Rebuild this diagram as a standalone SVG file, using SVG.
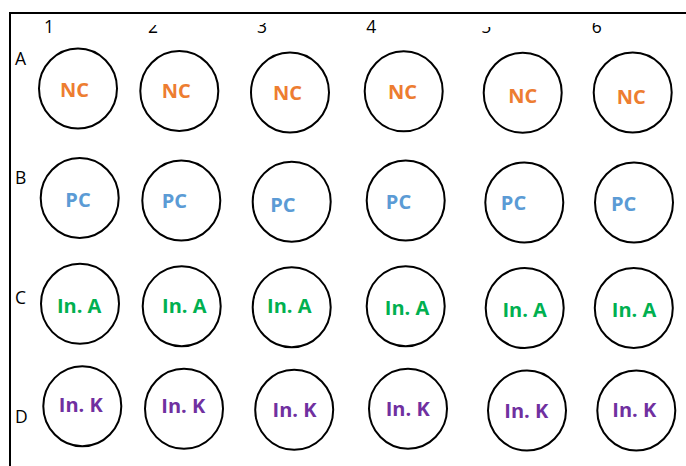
<svg xmlns="http://www.w3.org/2000/svg" width="686" height="466" viewBox="0 0 686 466">
<style>
  .well { fill: #ffffff; stroke: #000000; stroke-width: 2; }
  .lbl { font-family: "Open Sans", "Liberation Sans", sans-serif; font-size: 17.5px; fill: #000000; }
  .col { text-anchor: middle; }
  .t { font-family: "Open Sans", "Liberation Sans", sans-serif; font-size: 20px; font-weight: bold; text-anchor: middle; }
  .nc { fill: #ED7D31; }
  .pc { fill: #5B9BD5; }
  .ia { fill: #00B050; }
  .ik { fill: #7030A0; }
</style>
<defs>
  <clipPath id="clip2"><rect x="140" y="25" width="30" height="15"/></clipPath>
  <clipPath id="clip3"><rect x="250" y="23" width="30" height="15"/></clipPath>
  <clipPath id="clip5"><rect x="475" y="27" width="30" height="15"/></clipPath>
  <clipPath id="clip6"><rect x="585" y="23" width="30" height="15"/></clipPath>
</defs>
<rect width="686" height="466" fill="#ffffff"/>
<g id="frame">
  <path d="M 10 466 V 13 H 686" fill="none" stroke="#000000" stroke-width="2"/>
</g>
<g id="column-labels">
  <text class="lbl col" x="49" y="33.3">1</text>
  <text class="lbl col" x="153" y="33.3" clip-path="url(#clip2)">2</text>
  <text class="lbl col" x="262" y="33.3" clip-path="url(#clip3)">3</text>
  <text class="lbl col" x="371.3" y="33.3">4</text>
  <text class="lbl col" x="486.2" y="33.3" clip-path="url(#clip5)">5</text>
  <text class="lbl col" x="596.7" y="33.3" clip-path="url(#clip6)">6</text>
</g>
<g id="row-labels">
  <text class="lbl" x="15" y="65">A</text>
  <text class="lbl" x="15" y="184.3">B</text>
  <text class="lbl" x="15" y="304">C</text>
  <text class="lbl" x="15" y="423.3">D</text>
</g>
<g id="A1"><ellipse class="well" cx="78" cy="88.5" rx="39" ry="40"/><text class="t nc" x="74.5" y="97.3">NC</text></g>
<g id="A2"><ellipse class="well" cx="179.3" cy="91" rx="39" ry="40"/><text class="t nc" x="176.3" y="98.3">NC</text></g>
<g id="A3"><ellipse class="well" cx="290" cy="92.5" rx="39" ry="40"/><text class="t nc" x="287.5" y="100">NC</text></g>
<g id="A4"><ellipse class="well" cx="403.7" cy="91.3" rx="39" ry="40"/><text class="t nc" x="402.5" y="99.3">NC</text></g>
<g id="A5"><ellipse class="well" cx="522.7" cy="92.8" rx="39" ry="40"/><text class="t nc" x="522.7" y="102.7">NC</text></g>
<g id="A6"><ellipse class="well" cx="632.7" cy="92.5" rx="39" ry="40"/><text class="t nc" x="631.3" y="104">NC</text></g>
<g id="B1"><ellipse class="well" cx="79.7" cy="198" rx="39" ry="40"/><text class="t pc" x="78" y="206.7">PC</text></g>
<g id="B2"><ellipse class="well" cx="181.3" cy="200.5" rx="39" ry="40"/><text class="t pc" x="174.3" y="208.3">PC</text></g>
<g id="B3"><ellipse class="well" cx="291.7" cy="201.7" rx="39" ry="40"/><text class="t pc" x="282.8" y="211.7">PC</text></g>
<g id="B4"><ellipse class="well" cx="405.7" cy="200.5" rx="39" ry="40"/><text class="t pc" x="398.5" y="209">PC</text></g>
<g id="B5"><ellipse class="well" cx="524.3" cy="202.5" rx="39" ry="40"/><text class="t pc" x="513.5" y="210">PC</text></g>
<g id="B6"><ellipse class="well" cx="634" cy="202.5" rx="39" ry="40"/><text class="t pc" x="623.7" y="210.7">PC</text></g>
<g id="C1"><ellipse class="well" cx="80" cy="303.8" rx="39" ry="40"/><text class="t ia" x="79.2" y="312.7">In. A</text></g>
<g id="C2"><ellipse class="well" cx="181.7" cy="306.2" rx="39" ry="40"/><text class="t ia" x="184.3" y="313.3">In. A</text></g>
<g id="C3"><ellipse class="well" cx="291.7" cy="307.2" rx="39" ry="40"/><text class="t ia" x="289.3" y="312.7">In. A</text></g>
<g id="C4"><ellipse class="well" cx="405.7" cy="306.2" rx="39" ry="40"/><text class="t ia" x="407" y="315">In. A</text></g>
<g id="C5"><ellipse class="well" cx="524.7" cy="308" rx="39" ry="40"/><text class="t ia" x="524.7" y="317.3">In. A</text></g>
<g id="C6"><ellipse class="well" cx="633.8" cy="308" rx="39" ry="40"/><text class="t ia" x="634" y="316.7">In. A</text></g>
<g id="D1"><ellipse class="well" cx="82.3" cy="406.2" rx="39" ry="40"/><text class="t ik" x="80.8" y="411.7">In. K</text></g>
<g id="D2"><ellipse class="well" cx="184" cy="408.8" rx="39" ry="40"/><text class="t ik" x="183.3" y="413.3">In. K</text></g>
<g id="D3"><ellipse class="well" cx="294.2" cy="409.8" rx="39" ry="40"/><text class="t ik" x="294.5" y="416.7">In. K</text></g>
<g id="D4"><ellipse class="well" cx="408" cy="408.7" rx="39" ry="40"/><text class="t ik" x="407.7" y="415.7">In. K</text></g>
<g id="D5"><ellipse class="well" cx="527" cy="410.5" rx="39" ry="40"/><text class="t ik" x="526.3" y="417.7">In. K</text></g>
<g id="D6"><ellipse class="well" cx="636.3" cy="410.5" rx="39" ry="40"/><text class="t ik" x="634.3" y="417.3">In. K</text></g>
<g id="connectors"></g>
</svg>
